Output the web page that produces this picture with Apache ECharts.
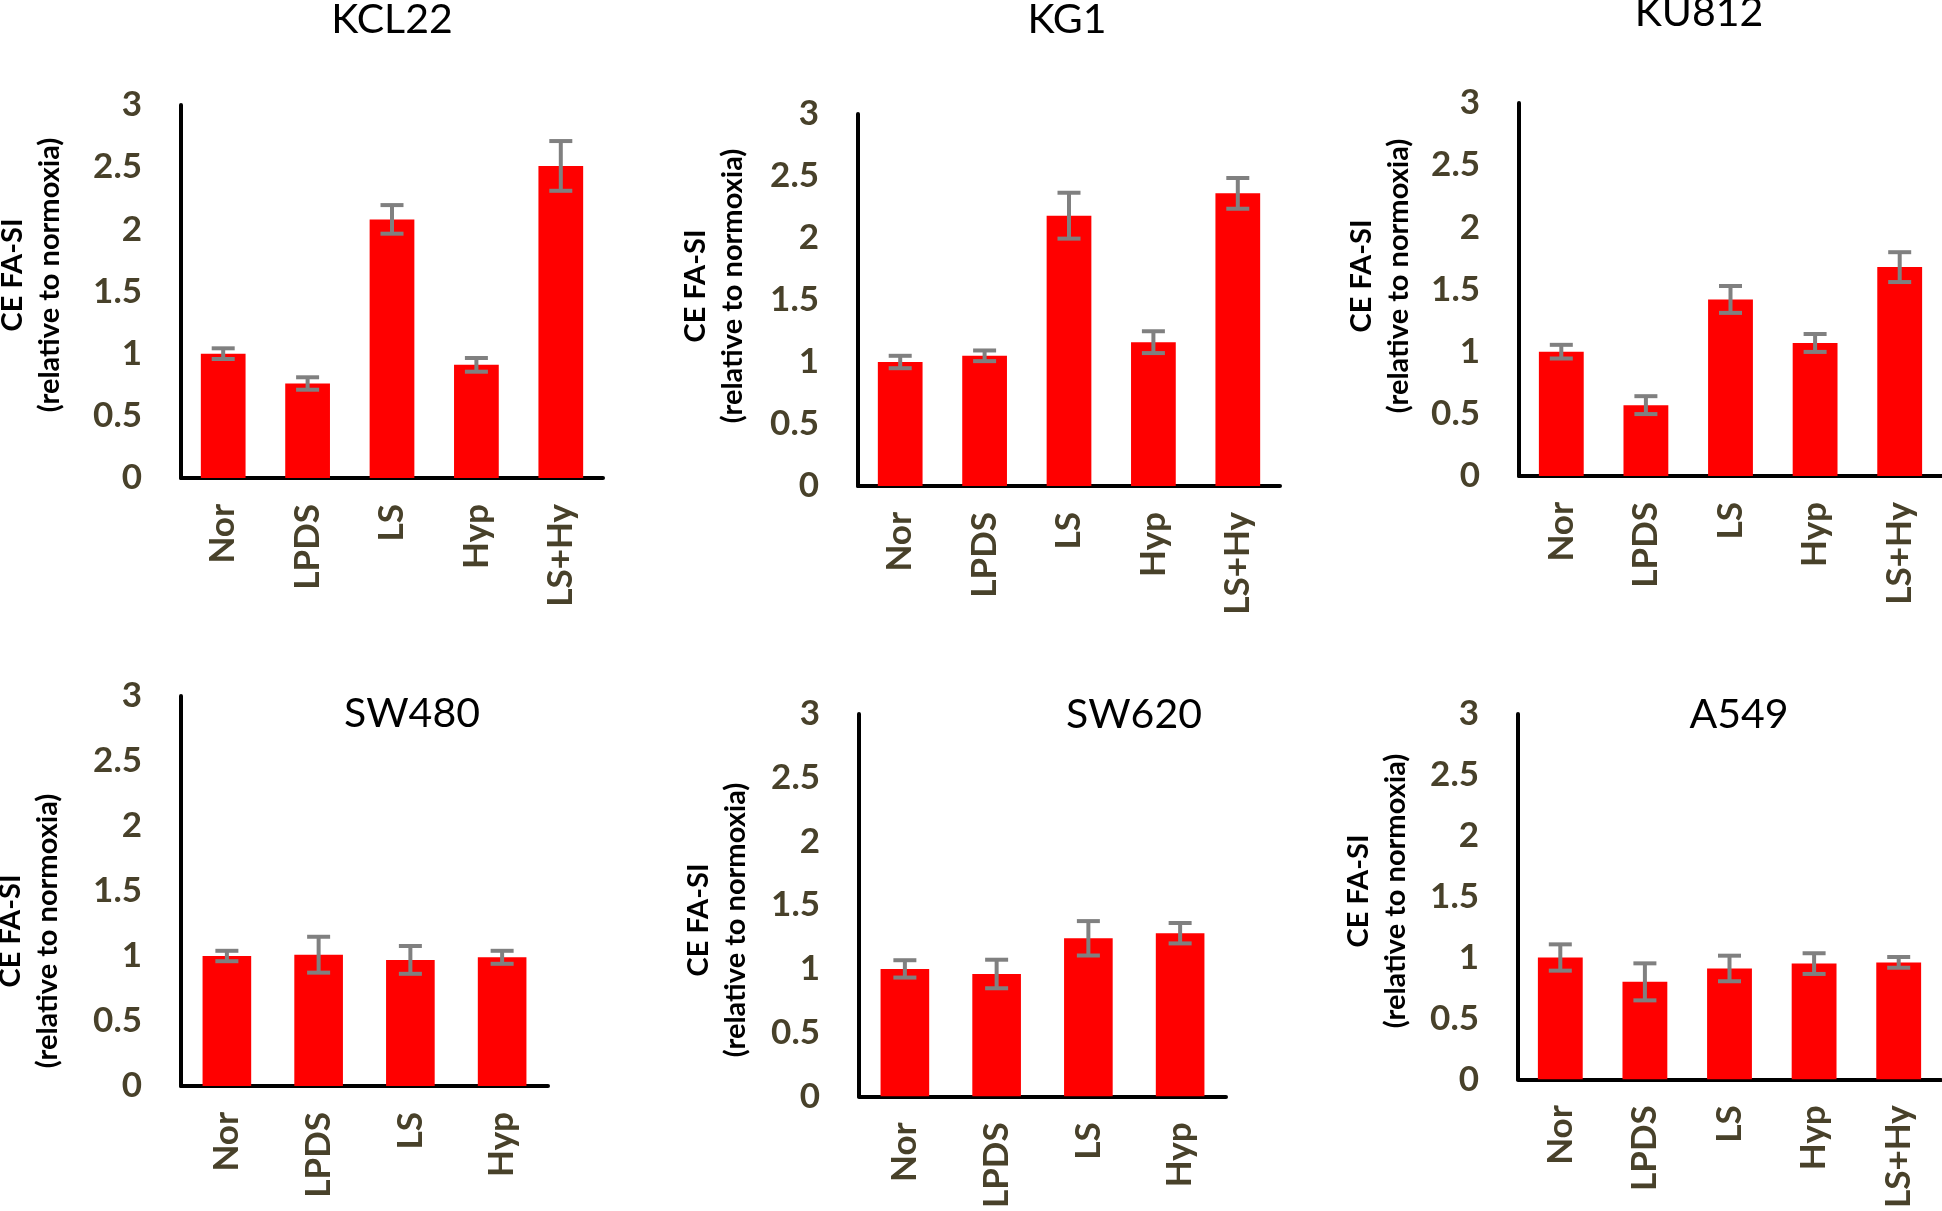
<!DOCTYPE html>
<html>
<head>
<meta charset="utf-8">
<title>CE FA-SI relative to normoxia</title>
<script src="https://cdn.jsdelivr.net/npm/echarts@6/dist/echarts.min.js"></script>
<style>
  html, body { margin: 0; padding: 0; background: #fff; }
  #chart { width: 1942px; height: 1211px; }
</style>
</head>
<body>
<div id="chart"></div>
<script>
// panel names
const panelNames = ['KCL22', 'KG1', 'KU812', 'SW480', 'SW620', 'A549'];

// categories
const catsFive = ['Nor', 'LPDS', 'LS', 'Hyp', 'LS+Hy'];
const catsFour = ['Nor', 'LPDS', 'LS', 'Hyp'];

// bar values (relative to normoxia)
const kcl22Vals = [1.0, 0.76, 2.08, 0.91, 2.51];
const kg1Vals = [1.0, 1.05, 2.18, 1.16, 2.36];
const ku812Vals = [1.0, 0.57, 1.42, 1.07, 1.68];
const sw480Vals = [1.0, 1.01, 0.97, 0.99];
const sw620Vals = [1.0, 0.96, 1.24, 1.28];
const a549Vals = [1.0, 0.80, 0.91, 0.95, 0.96];

// error bar half lengths
const kcl22Err = [0.043, 0.05, 0.115, 0.055, 0.2];
const kg1Err = [0.05, 0.043, 0.185, 0.088, 0.124];
const ku812Err = [0.055, 0.072, 0.108, 0.072, 0.12];
const sw480Err = [0.04, 0.138, 0.107, 0.05];
const sw620Err = [0.068, 0.112, 0.135, 0.08];
const a549Err = [0.108, 0.152, 0.105, 0.085, 0.044];

// y axis ticks
const yTicks = { min: 0, max: 3, interval: 0.5 };
const yTitle = 'CE FA-SI\n(relative to normoxia)';

const panels = [
  { name: panelNames[0], cats: catsFive, vals: kcl22Vals, err: kcl22Err },
  { name: panelNames[1], cats: catsFive, vals: kg1Vals, err: kg1Err },
  { name: panelNames[2], cats: catsFive, vals: ku812Vals, err: ku812Err },
  { name: panelNames[3], cats: catsFour, vals: sw480Vals, err: sw480Err },
  { name: panelNames[4], cats: catsFour, vals: sw620Vals, err: sw620Err },
  { name: panelNames[5], cats: catsFive, vals: a549Vals, err: a549Err }
];

// layout of each panel: grid box, title centre, y title centre
const layout = [
  { grid: [181, 105, 422, 373], title: [392, 20], yname: [31, 275] },
  { grid: [858, 114, 422, 372], title: [1067, 20], yname: [714, 286] },
  { grid: [1519, 103, 423, 373], title: [1699, 13], yname: [1380, 276] },
  { grid: [181, 696, 367, 390], title: [412, 714], yname: [29, 931] },
  { grid: [859, 714, 367, 390], title: [1134, 715], yname: [717, 920] },
  { grid: [1518, 714, 423, 372], title: [1739, 715], yname: [1377, 891] }
];

const font = 'Lato';
const olive = '#48412a';

// error bar: stem plus two caps
function renderErr(params, api) {
  const lo = api.coord([api.value(0), api.value(1)]);
  const hi = api.coord([api.value(0), api.value(2)]);
  const w = 11.5;
  const style = { stroke: '#808080', lineWidth: 4 };
  return {
    type: 'group',
    children: [
      { type: 'line', shape: { x1: hi[0], y1: hi[1], x2: lo[0], y2: lo[1] }, style: style },
      { type: 'line', shape: { x1: hi[0] - w, y1: hi[1], x2: hi[0] + w, y2: hi[1] }, style: style },
      { type: 'line', shape: { x1: lo[0] - w, y1: lo[1], x2: lo[0] + w, y2: lo[1] }, style: style }
    ]
  };
}

const grids = [], xAxes = [], yAxes = [], series = [], graphics = [];

panels.forEach((p, i) => {
  const L = layout[i];
  grids.push({ left: L.grid[0], top: L.grid[1], width: L.grid[2], height: L.grid[3] });
  xAxes.push({
    type: 'category',
    gridIndex: i,
    data: p.cats,
    axisLine: { lineStyle: { color: '#000', width: 4 } },
    axisTick: { show: false },
    axisLabel: {
      rotate: 90,
      margin: 26,
      color: olive,
      fontFamily: font,
      fontWeight: 'bold',
      fontSize: 35,
      interval: 0
    }
  });
  yAxes.push({
    type: 'value',
    gridIndex: i,
    min: yTicks.min,
    max: yTicks.max,
    interval: yTicks.interval,
    axisLine: { show: true, lineStyle: { color: '#000', width: 4 } },
    axisTick: { show: false },
    splitLine: { show: false },
    axisLabel: {
      margin: 39,
      color: olive,
      fontFamily: font,
      fontWeight: 'bold',
      fontSize: 35
    }
  });
  series.push({
    type: 'bar',
    xAxisIndex: i,
    yAxisIndex: i,
    data: p.vals,
    barCategoryGap: '47%',
    itemStyle: { color: '#ff0000' },
    silent: true
  });
  series.push({
    type: 'custom',
    xAxisIndex: i,
    yAxisIndex: i,
    renderItem: renderErr,
    encode: { x: 0, y: [1, 2] },
    data: p.vals.map((v, k) => [k, v - p.err[k], v + p.err[k]]),
    z: 5,
    silent: true
  });
  graphics.push({
    type: 'text',
    x: L.title[0],
    y: L.title[1],
    style: {
      text: p.name,
      fill: '#000',
      font: '41px ' + font,
      align: 'center',
      verticalAlign: 'middle'
    }
  });
  graphics.push({
    type: 'text',
    x: L.yname[0],
    y: L.yname[1],
    rotation: Math.PI / 2,
    style: {
      text: yTitle,
      fill: '#000',
      font: 'bold 29px ' + font,
      lineHeight: 37,
      align: 'center',
      verticalAlign: 'middle'
    }
  });
});

const chart = echarts.init(document.getElementById('chart'), null, { renderer: 'canvas' });
chart.setOption({
  backgroundColor: '#fff',
  animation: false,
  grid: grids,
  xAxis: xAxes,
  yAxis: yAxes,
  series: series,
  graphic: graphics
});
</script>
</body>
</html>
